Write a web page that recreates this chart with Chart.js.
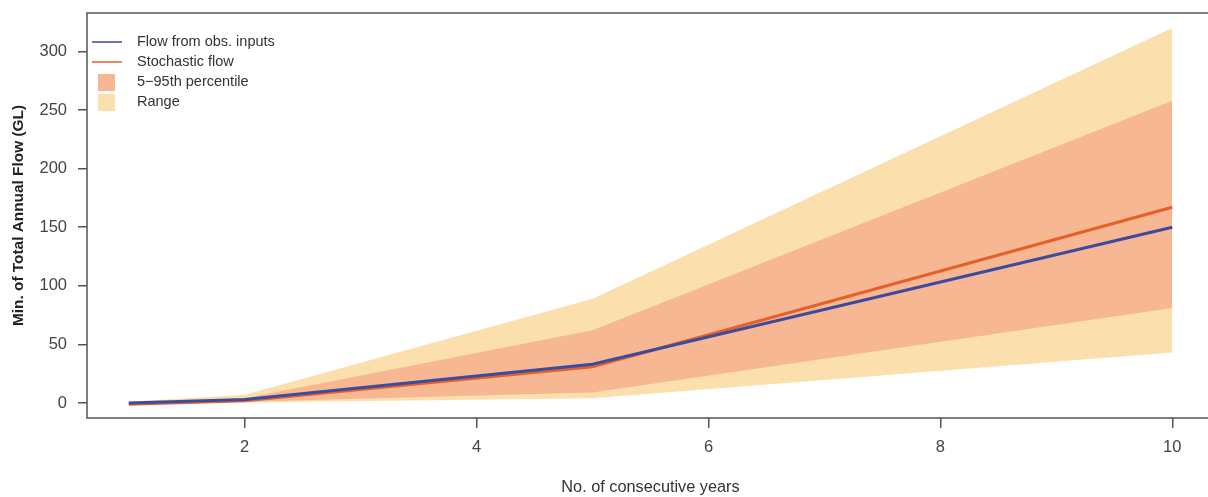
<!DOCTYPE html>
<html>
<head>
<meta charset="utf-8">
<script src="https://cdn.jsdelivr.net/npm/chart.js@4.4.0/dist/chart.umd.min.js"></script>
<style>
  html, body { margin: 0; padding: 0; background: #fff; overflow: hidden; width: 1208px; height: 497px; }
  #wrap { position: relative; width: 1216px; height: 497px; }
</style>
</head>
<body>
<div id="wrap"><canvas id="c" width="1216" height="497"></canvas></div>
<script>
// ---- data ----
const years = [1, 2, 5, 10];
const obsFlow = [0, 3, 33, 150];
const stochFlow = [-1, 2, 31, 167];
const p5 = [0, 1, 9, 81];
const p95 = [0.5, 4, 62, 258];
const rangeLow = [0, 0.5, 4, 43];
const rangeHigh = [1, 7, 89, 320];
const xTicks = [2, 4, 6, 8, 10];
const yTicks = [0, 50, 100, 150, 200, 250, 300];
const labels = ["Flow from obs. inputs", "Stochastic flow", "5\u221295th percentile", "Range"];

const FONT = '"Liberation Sans", Arial, sans-serif';
const BLUE = '#3b4b9e', ORANGE = '#e4602a', BAND = '#f6b792', RANGE = '#fbe0ad';
const pts = arr => years.map((x, i) => ({ x: x, y: arr[i] }));

const boxPlugin = {
  id: 'box',
  afterDraw(chart) {
    const { ctx, chartArea: a } = chart;
    ctx.save();
    ctx.strokeStyle = '#555';
    ctx.lineWidth = 1.5;
    ctx.strokeRect(a.left, a.top, a.right - a.left, a.bottom - a.top);
    ctx.restore();
  }
};

const legendPlugin = {
  id: 'customLegend',
  afterDraw(chart) {
    const ctx = chart.ctx;
    const a = chart.chartArea;
    ctx.save();
    ctx.font = '14.5px ' + FONT;
    ctx.textBaseline = 'middle';
    const x0 = a.left + 5, tx = a.left + 50, y0 = a.top + 29, dy = 20;
    const kinds = [['line', BLUE], ['line', ORANGE], ['box', BAND], ['box', RANGE]];
    kinds.forEach((k, i) => {
      const y = y0 + i * dy;
      if (k[0] === 'line') {
        ctx.strokeStyle = k[1]; ctx.lineWidth = 1.5;
        ctx.beginPath(); ctx.moveTo(x0, y); ctx.lineTo(x0 + 30, y); ctx.stroke();
      } else {
        ctx.fillStyle = k[1];
        ctx.fillRect(x0 + 6, y - 8, 17, 17);
      }
      ctx.fillStyle = '#333';
      ctx.fillText(labels[i], tx, y);
    });
    ctx.restore();
  }
};

new Chart(document.getElementById('c'), {
  type: 'line',
  data: {
    datasets: [
      { label: labels[0], data: pts(obsFlow), borderColor: BLUE, borderWidth: 3, pointRadius: 0, fill: false, tension: 0 },
      { label: labels[1], data: pts(stochFlow), borderColor: ORANGE, borderWidth: 3, pointRadius: 0, fill: false, tension: 0 },
      { label: labels[2], data: pts(p95), borderWidth: 0, borderColor: 'rgba(0,0,0,0)', backgroundColor: BAND, pointRadius: 0, fill: 3, tension: 0 },
      { label: 'p5', data: pts(p5), borderWidth: 0, borderColor: 'rgba(0,0,0,0)', pointRadius: 0, fill: false, tension: 0 },
      { label: labels[3], data: pts(rangeHigh), borderWidth: 0, borderColor: 'rgba(0,0,0,0)', backgroundColor: RANGE, pointRadius: 0, fill: 5, tension: 0 },
      { label: 'rangeLow', data: pts(rangeLow), borderWidth: 0, borderColor: 'rgba(0,0,0,0)', pointRadius: 0, fill: false, tension: 0 }
    ]
  },
  options: {
    responsive: false,
    animation: false,
    layout: { padding: { top: 13, right: 2, left: 0, bottom: 0 } },
    plugins: { legend: { display: false }, tooltip: { enabled: false } },
    scales: {
      x: {
        type: 'linear',
        min: 0.64, max: 10.36,
        afterBuildTicks: s => { s.ticks = xTicks.map(v => ({ value: v })); },
        afterFit: s => { s.height = 79; s.paddingLeft = 0; s.paddingRight = 0; },
        grid: { drawOnChartArea: false, drawTicks: true, tickLength: 10, color: '#555', lineWidth: 1.5 },
        border: { display: false },
        ticks: { color: '#444', font: { size: 16.5, family: FONT }, padding: 10, maxRotation: 0 },
        title: { display: true, text: 'No. of consecutive years', color: '#333', font: { size: 16.3, family: FONT }, padding: { top: 0, bottom: 0 } }
      },
      y: {
        min: -12.8, max: 332.8,
        afterBuildTicks: s => { s.ticks = yTicks.map(v => ({ value: v })); },
        afterFit: s => { s.width = 87; s.paddingTop = 0; s.paddingBottom = 0; },
        grid: { drawOnChartArea: false, drawTicks: true, tickLength: 9, color: '#555', lineWidth: 1.5 },
        border: { display: false },
        ticks: { color: '#444', font: { size: 16.5, family: FONT }, padding: 11 },
        title: { display: true, text: 'Min. of Total Annual Flow (GL)', color: '#222', font: { size: 15.4, weight: '600', family: FONT }, padding: { top: 10, bottom: 0 } }
      }
    }
  },
  plugins: [boxPlugin, legendPlugin]
});
</script>
</body>
</html>
